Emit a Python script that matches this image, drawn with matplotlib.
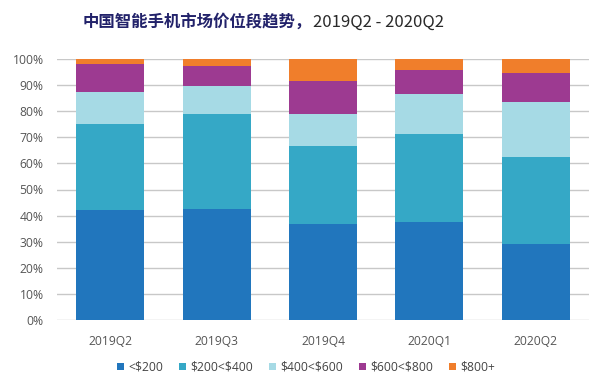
import matplotlib
matplotlib.use("Agg")
import matplotlib.pyplot as plt
from matplotlib.patches import Patch
import numpy as np

categories = ["2019Q2", "2019Q3", "2019Q4", "2020Q1", "2020Q2"]
series_names = ["<$200", "$200<$400", "$400<$600", "$600<$800", "$800+"]
s_lt200 = [42.1, 42.6, 36.8, 37.7, 29.1]
s_200_400 = [33.0, 36.2, 30.0, 33.6, 33.4]
s_400_600 = [12.3, 10.9, 12.0, 15.4, 21.0]
s_600_800 = [10.7, 7.6, 12.9, 9.1, 11.0]
s_800p = [1.9, 2.7, 8.3, 4.2, 5.5]
series = [s_lt200, s_200_400, s_400_600, s_600_800, s_800p]
colors = ["#2176BD", "#35A8C6", "#A6DAE5", "#9D3A91", "#F07E2B"]
yticks = [0, 10, 20, 30, 40, 50, 60, 70, 80, 90, 100]

plt.rcParams['font.family'] = ['Open Sans', 'DejaVu Sans']

fig = plt.figure(figsize=(6.05, 3.86), dpi=100)
fig.patch.set_facecolor("white")
ax = fig.add_axes([57/605, 1-320/386, 532/605, 261/386])

x = np.arange(len(categories))
bottom = np.zeros(len(categories))
for vals, c in zip(series, colors):
    v = np.array(vals) / 100.0
    ax.bar(x, v, bottom=bottom, width=0.64, color=c, zorder=3, linewidth=0)
    bottom += v

ax.set_xlim(-0.5, len(categories) - 0.5)
ax.set_ylim(0, 1.0)
ax.set_yticks([t/100 for t in yticks])
ax.set_yticklabels([f"{t}%" for t in yticks])
ax.set_xticks(x)
ax.set_xticklabels(categories)
ax.yaxis.grid(True, color="#C8C8C8", linewidth=1.0, zorder=0)
ax.set_axisbelow(True)
for sp in ax.spines.values():
    sp.set_visible(False)
ax.tick_params(axis="both", length=0, labelsize=8.7, colors="#555555")
ax.tick_params(axis="y", pad=9.5)
ax.tick_params(axis="x", pad=11)

handles = [Patch(facecolor=c, edgecolor="none") for c in colors]
labels = [s.replace("$", r"\$") for s in series_names]
fig.legend(handles, labels, loc="center", bbox_to_anchor=(306/605, 1-367/386),
           ncol=5, frameon=False, fontsize=8.7, handlelength=0.55, handleheight=0.55,
           handletextpad=0.35, columnspacing=1.35, labelcolor="#444444")

t1 = fig.text(83/605, 1-22/386, "中国智能手机市场价位段趋势，", fontsize=11.8,
              fontweight="bold", color="#22226A", va="center", ha="left",
              family=["Noto Sans CJK SC", "DejaVu Sans"])
fig.canvas.draw()
bb = t1.get_window_extent(renderer=fig.canvas.get_renderer())
fig.text(bb.x1 / fig.bbox.width + 1/605, 1-22/386, "2019Q2 - 2020Q2", fontsize=12,
         color="#2A2A2A", va="center", ha="left",
         family=["Noto Sans CJK SC", "DejaVu Sans"])

fig.savefig("out.png", dpi=100, facecolor="white")
